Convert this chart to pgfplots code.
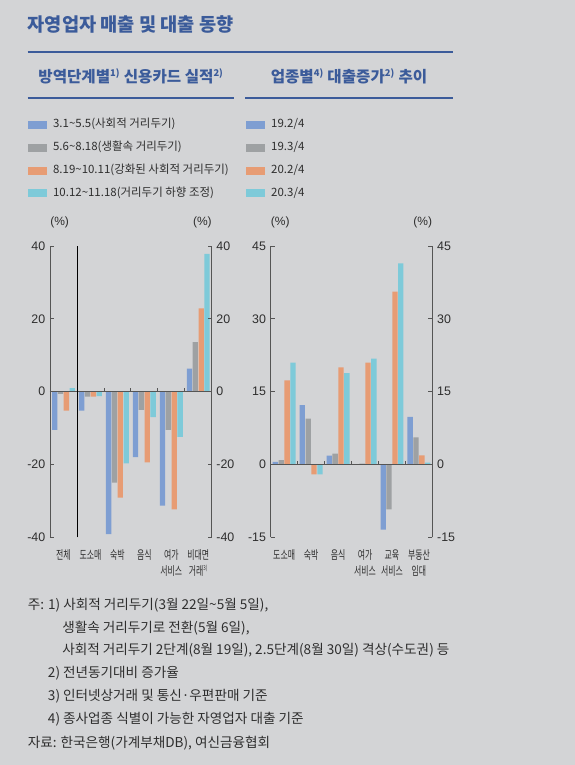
\documentclass[border=0pt]{standalone}
\usepackage{fontspec}
\usepackage{graphicx}
\usepackage{pgfplots}
\pgfplotsset{compat=1.18}
\setmainfont{Noto Sans CJK KR}
\newfontfamily\numfont{Liberation Sans}

\definecolor{bg}{HTML}{D3D4D6}
\definecolor{cBlue}{HTML}{7E9ED2}
\definecolor{cGray}{HTML}{9EA1A3}
\definecolor{cOrange}{HTML}{E79C74}
\definecolor{cCyan}{HTML}{7ECAD9}
\definecolor{ttl}{HTML}{3B5B9A}
\definecolor{txt}{HTML}{2E2E2E}
\definecolor{axc}{HTML}{555555}

\newcommand{\cx}[1]{\scalebox{0.66}[1]{#1}}

\pgfplotsset{
  panel/.style={
    scale only axis,
    width=121.3pt, height=218.5pt,
    xmin=-0.5, xmax=5.5,
    ybar=0.4pt, bar width=4pt,
    axis y line*=left,
    axis x line*=bottom,
    x axis line style={draw=none},
    y axis line style={-, draw=axc, line width=0.6pt},
    xtick={0,...,5},
    xtick style={draw=none},
    ytick style={draw=axc, line width=0.6pt},
    tick align=inside,
    major tick length=3pt,
    /pgf/number format/assume math mode=true,
    yticklabel style={font=\numfont\fontsize{9.3}{10}\selectfont, text=txt},
    xticklabel style={font=\fontsize{9}{12}\selectfont, text=txt, align=center, anchor=north, yshift=-5.5pt},
    legend image code/.code={\fill[##1] (0pt,-3pt) rectangle (14.5pt,3pt);},
    legend cell align=left,
    legend style={draw=none, fill=none, inner sep=0pt, row sep=8.2pt, column sep=4.5pt,
      font=\fontsize{8.6}{10}\selectfont, text=txt,
      nodes={inner sep=0pt, text height=7pt, text depth=2pt}},
  },
  rightpanel/.style={
    scale only axis,
    width=121.3pt, height=218.5pt,
    xmin=-0.5, xmax=5.5,
    axis y line*=right,
    axis x line=none,
    y axis line style={-, draw=axc, line width=0.6pt},
    ytick style={draw=axc, line width=0.6pt},
    tick align=inside,
    major tick length=3pt,
    /pgf/number format/assume math mode=true,
    yticklabel style={font=\numfont\fontsize{9.3}{10}\selectfont, text=txt},
  },
}

\begin{document}
\begin{tikzpicture}
\begin{scope}[x=0.75pt, y=-0.75pt]
  \fill[bg] (0,0) rectangle (575,765);
  \node[anchor=west, inner sep=0pt, text=ttl, font=\fontsize{14}{17}\selectfont\bfseries] at (27.5,24) {자영업자 매출 및 대출 동향};
  \draw[ttl, line width=0.8pt] (27.5,52) -- (453,52);
  \node[inner sep=0pt, text=ttl, font=\fontsize{11.7}{14}\selectfont\bfseries] at (131,76) {방역단계별\textsuperscript{\scriptsize 1)} 신용카드 실적\textsuperscript{\scriptsize 2)}};
  \node[inner sep=0pt, text=ttl, font=\fontsize{11.7}{14}\selectfont\bfseries] at (349,76) {업종별\textsuperscript{\scriptsize 4)} 대출증가\textsuperscript{\scriptsize 2)} 추이};
  \draw[ttl, line width=0.8pt] (27.5,98) -- (234,98);
  \draw[ttl, line width=0.8pt] (245,98) -- (453,98);
  % unit labels
  \begin{scope}[every node/.style={inner sep=0pt, text=txt, font=\numfont\fontsize{9}{10}\selectfont}]
    \node[anchor=west] at (50,222.7) {(\%)};
    \node[anchor=east] at (212,222.7) {(\%)};
    \node[anchor=west] at (270.7,222.7) {(\%)};
    \node[anchor=east] at (432.3,222.7) {(\%)};
  \end{scope}
  % notes
  \begin{scope}[every node/.style={anchor=west, inner sep=0pt, text=txt, font=\fontsize{10.2}{12}\selectfont}]
    \node at (27.5,605) {주: 1) 사회적 거리두기(3월 22일\textasciitilde5월 5일),};
    \node at (62,628) {생활속 거리두기로 전환(5월 6일),};
    \node at (62,650.5) {사회적 거리두기 2단계(8월 19일), 2.5단계(8월 30일) 격상(수도권) 등};
    \node at (47.7,673.5) {2) 전년동기대비 증가율};
    \node at (47.7,696.5) {3) 인터넷상거래 및 통신·우편판매 기준};
    \node at (47.7,719.5) {4) 종사업종 식별이 가능한 자영업자 대출 기준};
    \node at (27.5,743) {자료: 한국은행(가계부채DB), 여신금융협회};
  \end{scope}
\end{scope}

% left panel: card sales by distancing stage
\begin{axis}[panel,
  at={(50*0.75pt,-537.3*0.75pt)}, anchor=south west,
  ymin=-40, ymax=40, ytick={-40,-20,0,20,40},
  xticklabels={{\cx{전체}}, {\cx{도소매}}, {\cx{숙박}}, {\cx{음식}},
    {\cx{여가}\\\cx{서비스}}, {\cx{비대면}\\\cx{거래\textsuperscript{\tiny 3)}}}},
  legend style={at={(axis description cs:-0.139,1.438)}, anchor=north west},
]
\addplot[fill=cBlue, draw=none] coordinates {(0,-10.5) (1,-5.2) (2,-39.1) (3,-18.0) (4,-31.3) (5,6.3)};
\addplot[fill=cGray, draw=none] coordinates {(0,-0.6) (1,-1.4) (2,-25.0) (3,-5.0) (4,-10.5) (5,13.6)};
\addplot[fill=cOrange, draw=none] coordinates {(0,-5.2) (1,-1.4) (2,-29.1) (3,-19.4) (4,-32.3) (5,22.9)};
\addplot[fill=cCyan, draw=none] coordinates {(0,1.0) (1,-1.2) (2,-19.7) (3,-7.0) (4,-12.4) (5,37.8)};
\legend{3.1\textasciitilde5.5(사회적 거리두기), 5.6\textasciitilde8.18(생활속 거리두기),
  8.19\textasciitilde10.11(강화된 사회적 거리두기), 10.12\textasciitilde11.18(거리두기 하향 조정)}
\draw[axc, line width=0.8pt] (axis cs:-0.5,0) -- (axis cs:5.5,0);
\draw[black, line width=0.5pt] (axis cs:0.5,-40) -- (axis cs:0.5,40);
\draw[axc, line width=0.6pt] (axis cs:1.5,0) -- ++(0pt,2.5pt);
\draw[axc, line width=0.6pt] (axis cs:2.5,0) -- ++(0pt,2.5pt);
\draw[axc, line width=0.6pt] (axis cs:3.5,0) -- ++(0pt,2.5pt);
\draw[axc, line width=0.6pt] (axis cs:4.5,0) -- ++(0pt,2.5pt);
\end{axis}
\begin{axis}[rightpanel,
  at={(50*0.75pt,-537.3*0.75pt)}, anchor=south west,
  ymin=-40, ymax=40, ytick={-40,-20,0,20,40},
]
\end{axis}

% right panel: loan growth by industry
\begin{axis}[panel,
  at={(270.7*0.75pt,-537.3*0.75pt)}, anchor=south west,
  ymin=-15, ymax=45, ytick={-15,0,15,30,45},
  xticklabels={{\cx{도소매}}, {\cx{숙박}}, {\cx{음식}},
    {\cx{여가}\\\cx{서비스}}, {\cx{교육}\\\cx{서비스}}, {\cx{부동산}\\\cx{임대}}},
  legend style={at={(axis description cs:-0.155,1.438)}, anchor=north west},
]
\addplot[fill=cBlue, draw=none] coordinates {(0,0.55) (1,12.2) (2,1.8) (3,0) (4,-13.4) (5,9.8)};
\addplot[fill=cGray, draw=none] coordinates {(0,0.9) (1,9.45) (2,2.26) (3,0.15) (4,-9.25) (5,5.6)};
\addplot[fill=cOrange, draw=none] coordinates {(0,17.3) (1,-2.05) (2,20.0) (3,21.0) (4,35.6) (5,1.85)};
\addplot[fill=cCyan, draw=none] coordinates {(0,21.0) (1,-2.05) (2,18.8) (3,21.8) (4,41.4) (5,0.4)};
\legend{19.2/4, 19.3/4, 20.2/4, 20.3/4}
\draw[axc, line width=0.8pt] (axis cs:-0.5,0) -- (axis cs:5.5,0);
\draw[axc, line width=0.6pt] (axis cs:0.5,0) -- ++(0pt,2.5pt);
\draw[axc, line width=0.6pt] (axis cs:1.5,0) -- ++(0pt,2.5pt);
\draw[axc, line width=0.6pt] (axis cs:2.5,0) -- ++(0pt,2.5pt);
\draw[axc, line width=0.6pt] (axis cs:3.5,0) -- ++(0pt,2.5pt);
\draw[axc, line width=0.6pt] (axis cs:4.5,0) -- ++(0pt,2.5pt);
\end{axis}
\begin{axis}[rightpanel,
  at={(270.7*0.75pt,-537.3*0.75pt)}, anchor=south west,
  ymin=-15, ymax=45, ytick={-15,0,15,30,45},
]
\end{axis}
\end{tikzpicture}
\end{document}
